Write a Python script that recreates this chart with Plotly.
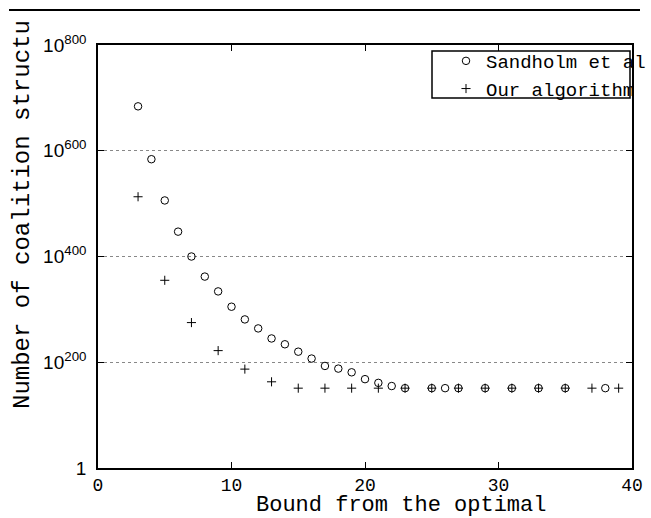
import plotly.graph_objects as go

# Data (log10 of number of coalition structures)
sand_x = [3, 4, 5, 6, 7, 8, 9, 10, 11, 12, 13, 14, 15, 16, 17, 18, 19, 20, 21, 22, 23,
          25, 26, 27, 29, 31, 33, 35, 38]
sand_log = [684, 584, 506, 447, 400, 362, 334, 305, 281, 264, 245, 234, 220, 207, 193, 188,
            181, 168, 161, 155, 151, 151, 151, 151, 151, 151, 151, 151, 151]
ours_x = [3, 5, 7, 9, 11, 13, 15, 17, 19, 21, 23, 25, 27, 29, 31, 33, 35, 37, 39]
ours_log = [513, 355, 275, 222, 187, 163, 151, 151, 151, 151, 151, 151, 151, 151, 151, 151,
            151, 151, 151]

x_ticks = [0, 10, 20, 30, 40]
y_ticks = [0, 200, 400, 600, 800]
y_ticktext = ["1", "10<sup>200</sup>", "10<sup>400</sup>", "10<sup>600</sup>", "10<sup>800</sup>"]

W, H = 651, 518
L, R, T, B = 98, 632, 45, 468
MONO = "Liberation Mono, Courier New, monospace"
SANS = "Liberation Sans, Arial, sans-serif"


def px(xp):
    return (xp - L) / (R - L)


def py(yp):
    return (B - yp) / (B - T)


fig = go.Figure()
fig.add_trace(go.Scatter(x=sand_x, y=sand_log, mode="markers", name="Sandholm et al",
                         marker=dict(symbol="circle-open", size=7.5, color="black",
                                     line=dict(width=1, color="black"))))
fig.add_trace(go.Scatter(x=ours_x, y=ours_log, mode="markers", name="Our algorithm",
                         marker=dict(symbol="cross-thin-open", size=6.5, color="black",
                                     line=dict(width=1, color="black"))))

fig.update_layout(
    width=W, height=H,
    margin=dict(l=L, r=W - R, t=T, b=H - B, pad=0, autoexpand=False),
    paper_bgcolor="white", plot_bgcolor="white",
    showlegend=True,
    legend=dict(x=px(446), y=py(42), xanchor="left", yanchor="top",
                bgcolor="rgba(0,0,0,0)", borderwidth=0,
                font=dict(family=MONO, size=19, color="black"),
                tracegroupgap=0, itemwidth=30),
    xaxis=dict(range=[0, 40], tickvals=x_ticks, ticktext=[str(v) for v in x_ticks],
               showgrid=False, zeroline=False, showline=True, linecolor="black",
               linewidth=1.5, mirror="ticks", ticks="inside", ticklen=6, tickwidth=1,
               tickcolor="black", tickfont=dict(family=MONO, size=18, color="black")),
    yaxis=dict(range=[0, 800], tickvals=y_ticks, ticktext=y_ticktext,
               showgrid=True, gridcolor="#888", griddash="dot", gridwidth=1,
               zeroline=False, showline=True, linecolor="black", linewidth=1.5,
               mirror="ticks", ticks="inside", ticklen=6, tickwidth=1, tickcolor="black",
               tickfont=dict(family=SANS, size=19, color="black"), ticklabelstandoff=6),
    shapes=[
        dict(type="line", xref="paper", yref="paper", x0=px(9), x1=px(640), y0=py(10), y1=py(10),
             line=dict(color="black", width=2)),
        dict(type="rect", xref="paper", yref="paper", x0=px(432), x1=px(630), y0=py(98), y1=py(51),
             line=dict(color="black", width=1.5), fillcolor="white", layer="above"),
    ],
    annotations=[
        dict(text="Bound from the optimal", xref="paper", yref="paper", x=px(401), y=py(505),
             xanchor="center", yanchor="middle", showarrow=False,
             font=dict(family=MONO, size=22, color="black")),
        dict(text="Number of coalition structu", xref="paper", yref="paper", x=px(22),
             y=py(215), xanchor="center", yanchor="middle", textangle=-90, showarrow=False,
             font=dict(family=MONO, size=24, color="black")),
    ],
)

fig.write_html("out.html")
